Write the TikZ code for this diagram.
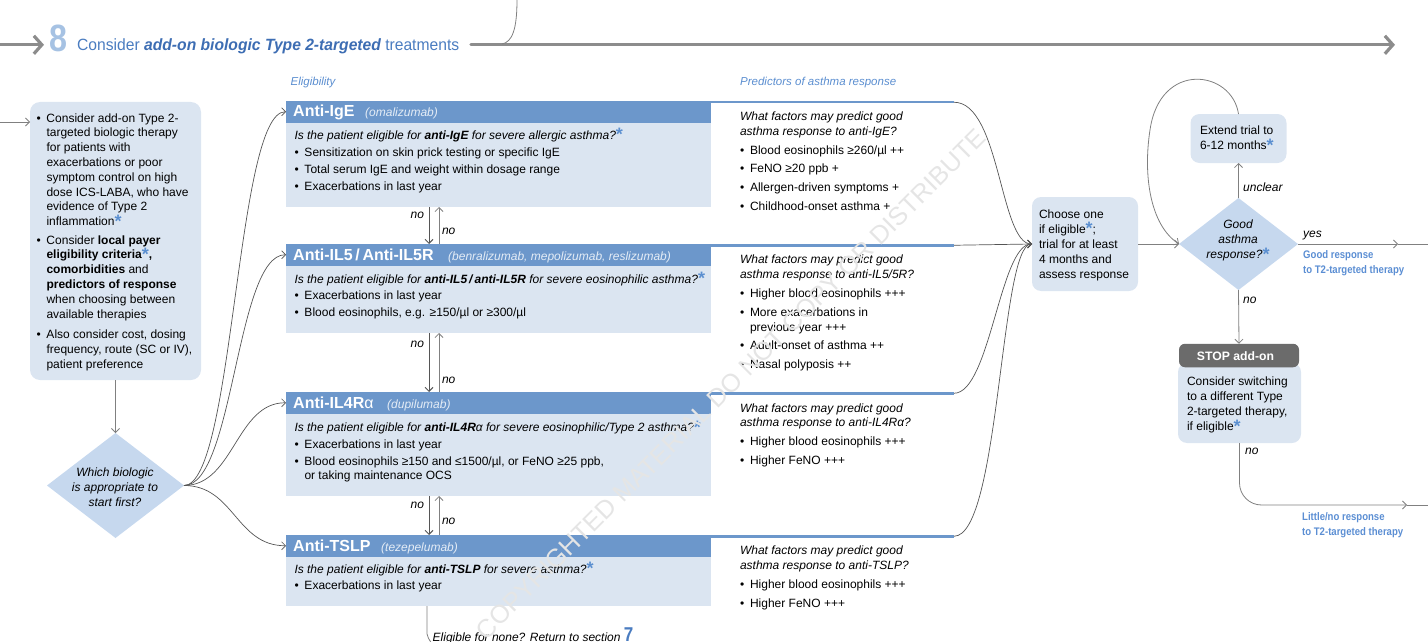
\documentclass[tikz,border=0pt]{standalone}
\usepackage{fontspec}
\setmainfont{Liberation Sans}
\newfontfamily\narrowf[FakeStretch=0.87]{Liberation Sans}
\newfontfamily\titlef[FakeStretch=0.96]{Liberation Sans}
\newfontfamily\eightf[FakeStretch=0.85]{Liberation Sans}
\usetikzlibrary{arrows.meta,shapes.geometric}
\definecolor{hdrblue}{HTML}{6C97CB}
\definecolor{boxblue}{HTML}{DBE5F1}
\definecolor{diafill}{HTML}{C6D8EE}
\definecolor{astblue}{HTML}{5B8FD0}
\definecolor{titleblue}{HTML}{4A7CC0}
\definecolor{titledark}{HTML}{3D6DB3}
\definecolor{eightblue}{HTML}{A6C2E3}
\definecolor{lineg}{HTML}{808080}
\definecolor{darkg}{HTML}{555555}
\definecolor{headg}{HTML}{8C8C8C}
\definecolor{stopg}{HTML}{6B6B6B}
\definecolor{respblue}{HTML}{5B8ED3}
\definecolor{labblue}{HTML}{5B8ED0}
\definecolor{drugc}{HTML}{E4ECF6}
\newcommand{\myast}{\raisebox{-1.5pt}{\fontsize{18}{18}\selectfont\bfseries\upshape\textcolor{astblue}{*}}}
\newcommand{\mybul}{\makebox[10pt][l]{\textbullet}}
\newcommand{\myind}{\hspace*{10pt}}
\newcommand{\myfl}{\rule{0pt}{12pt}}
\begin{document}
\begin{tikzpicture}[x=1pt,y=-1pt,
  tx/.style={anchor=north west, yshift=12pt, align=left, inner sep=0pt, outer sep=0pt, font=\fontsize{12}{14.8}\selectfont},
  ctx/.style={anchor=north, yshift=12pt, align=center, inner sep=0pt, outer sep=0pt, font=\fontsize{12}{15}\selectfont\itshape},
  htx/.style={anchor=base west, inner sep=0pt, text=white, font=\fontsize{16}{16}\selectfont\bfseries},
  dtx/.style={anchor=base west, inner sep=0pt, text=drugc, font=\fontsize{12}{12}\selectfont\itshape},
  lab/.style={anchor=base west, inner sep=0pt, font=\fontsize{12}{12}\selectfont\itshape},
  nolab/.style={anchor=base, inner sep=0pt, font=\fontsize{12}{12}\selectfont\itshape},
  bodybox/.style={fill=boxblue, inner sep=0pt, outer sep=0pt, anchor=north west, minimum width=425},
  hdrbox/.style={fill=hdrblue, inner sep=0pt, outer sep=0pt, anchor=north west, minimum width=425, minimum height=21.5},
  rbox/.style={fill=boxblue, rounded corners=9pt, inner sep=0pt, outer sep=0pt},
  conn/.style={draw=lineg, line width=0.8pt, -{Straight Barb[length=4pt,width=8pt]}},
  plain/.style={draw=lineg, line width=0.8pt},
  curv/.style={draw=darkg, line width=0.7pt, -{Straight Barb[length=4pt,width=8pt]}},
  predline/.style={draw=hdrblue, line width=2.5pt},
  bigarrow/.style={draw=headg, line width=3.2pt, line cap=round, -{Straight Barb[length=8pt,width=18pt]}},
  resp/.style={anchor=north west, yshift=11pt, align=left, inner sep=0pt, text=respblue, font=\narrowf\fontsize{11}{15}\selectfont\bfseries},
  toplab/.style={anchor=base west, inner sep=0pt, text=labblue, font=\fontsize{11.5}{11.5}\selectfont\itshape},
]
\useasboundingbox (0,0) rectangle (1428,642);

% ---------- header ----------
\coordinate (hl0) at (0,44.8);
\coordinate (hl1) at (44,44.8);
\draw[bigarrow] (hl0) -- (hl1);
\node[anchor=base west, inner sep=0pt, text=eightblue, font=\eightf\fontsize{38}{38}\selectfont\bfseries] (eight) at (49.5,51.7) {8};
\node[anchor=base west, inner sep=0pt, text=titleblue, font=\titlef\fontsize{16.3}{16.3}\selectfont] (title) at (77,51) {Consider \textcolor{titledark}{\bfseries\itshape add-on biologic Type 2-targeted} treatments};
\coordinate (hr0) at (471,44.8);
\coordinate (hr1) at (1395,44.8);
\draw[bigarrow] (hr0) -- (hr1);
\coordinate (topc) at (517,0);
\coordinate (topj) at (502,44);
\draw[plain] (topc) .. controls (517,30) and (512,42) .. (topj);

\node[toplab] (eligl) at (290.5,85.5) {Eligibility};
\node[toplab] (predl) at (740,85.5) {Predictors of asthma response};

% ---------- intro box ----------
\node[rbox, rounded corners=10pt, minimum width=171, minimum height=278] (intro) at (115.5,241) {};
\coordinate (instart) at (0,122);
\draw[conn] (instart) -- (instart -| intro.west);
\node[tx] (introtx) at (36.5,122.1) {\myfl\mybul Consider add-on Type 2-\\
\myind targeted biologic therapy\\
\myind for patients with\\
\myind exacerbations or poor\\
\myind symptom control on high\\
\myind dose ICS-LABA, who have\\
\myind evidence of Type 2\\
\myind inflammation\myast\\[3.5pt]
\mybul Consider \textbf{local payer}\\
\myind\textbf{eligibility criteria}\myast\textbf{,}\\
\myind\textbf{comorbidities} and\\
\myind\textbf{predictors of response}\\
\myind when choosing between\\
\myind available therapies\\[6pt]
\mybul Also consider cost, dosing\\
\myind frequency, route (SC or IV),\\
\myind patient preference};

\node[diamond, fill=diafill, minimum width=137, minimum height=105, inner sep=0pt, outer sep=0pt] (d1) at (115.5,485.5) {};
\draw[conn] (intro.south) -- (d1.north);
\node[ctx] (d1tx) at (115,476.5) {\myfl Which biologic\\is appropriate to\\start first?};

% ---------- biologic boxes ----------
\node[bodybox, minimum height=106] (b1) at (286,101) {};
\node[hdrbox] (h1) at (b1.north west) {};
\node[bodybox, minimum height=89] (b2) at (286,244) {};
\node[hdrbox] (h2) at (b2.north west) {};
\node[bodybox, minimum height=104] (b3) at (286,392) {};
\node[hdrbox] (h3) at (b3.north west) {};
\node[bodybox, minimum height=71] (b4) at (286,535) {};
\node[hdrbox] (h4) at (b4.north west) {};

\draw[curv] (d1.east) .. controls +(50,0) and +(-50,0) .. (h1.west);
\draw[curv] (d1.east) .. controls +(50,0) and +(-50,0) .. (h2.west);
\draw[curv] (d1.east) .. controls +(50,0) and +(-50,0) .. (h3.west);
\draw[curv] (d1.east) .. controls +(50,0) and +(-50,0) .. (h4.west);

\node[htx] (h1t) at (293,117) {Anti-IgE};
\node[dtx] (h1d) at (365,117) {(omalizumab)};
\node[htx] (h2t) at (293,260.6) {Anti-IL5\,/\,Anti-IL5R};
\node[dtx] (h2d) at (448,260.6) {(benralizumab, mepolizumab, reslizumab)};
\node[htx] (h3t) at (293,408.6) {Anti-IL4R{\mdseries α}};
\node[dtx] (h3d) at (387,408.6) {(dupilumab)};
\node[htx] (h4t) at (293,551.1) {Anti-TSLP};
\node[dtx] (h4d) at (381,551.1) {(tezepelumab)};

\node[tx] (q1) at (294.5,139) {\myfl\textit{Is the patient eligible for \textbf{anti-IgE} for severe allergic asthma?}\myast\\[2.5pt]
\mybul Sensitization on skin prick testing or specific IgE\\[2.5pt]
\mybul Total serum IgE and weight within dosage range\\[2.5pt]
\mybul Exacerbations in last year};
\node[tx] (q2) at (294.5,283) {\myfl\textit{Is the patient eligible for \textbf{anti-IL5\,/\,anti-IL5R} for severe eosinophilic asthma?}\myast\\[2pt]
\mybul Exacerbations in last year\\[2pt]
\mybul Blood eosinophils, e.g. ≥150/µl or ≥300/µl};
\node[tx] (q3) at (294.5,431.5) {\myfl\textit{Is the patient eligible for \textbf{anti-IL4R}α for severe eosinophilic/Type 2 asthma?}\myast\\[2pt]
\mybul Exacerbations in last year\\[2pt]
\mybul Blood eosinophils ≥150 and ≤1500/µl, or FeNO ≥25 ppb,\\
\myind or taking maintenance OCS};
\node[tx] (q4) at (294.5,573) {\myfl\textit{Is the patient eligible for \textbf{anti-TSLP} for severe asthma?}\myast\\[2pt]
\mybul Exacerbations in last year};

% no arrows between boxes
\coordinate (xd) at (429,0);
\coordinate (xu) at (439,0);
\draw[conn, draw=darkg, line width=1pt] (b1.south -| xd) -- (b2.north -| xd);
\draw[conn] (b2.north -| xu) -- (b1.south -| xu);
\draw[conn, draw=darkg, line width=1pt] (b2.south -| xd) -- (b3.north -| xd);
\draw[conn] (b3.north -| xu) -- (b2.south -| xu);
\draw[conn, draw=darkg, line width=1pt] (b3.south -| xd) -- (b4.north -| xd);
\draw[conn] (b4.north -| xu) -- (b3.south -| xu);
\node[nolab] (n1a) at (417.3,218.1) {no};
\node[nolab] (n1b) at (448.7,234.1) {no};
\node[nolab] (n2a) at (417.3,347.1) {no};
\node[nolab] (n2b) at (448.7,383.1) {no};
\node[nolab] (n3a) at (417.3,508.8) {no};
\node[nolab] (n3b) at (448.7,524.8) {no};

% eligible for none
\coordinate (xe) at (427,0);
\coordinate (elgend) at (431,642.5);
\draw[plain] (b4.south -| xe) -- (427,634) to[out=-90,in=110] (elgend);
\node[lab] (eltx) at (432.5,641) {Eligible for none? Return to section {\upshape\eightf\bfseries\textcolor{titleblue}{\fontsize{20}{20}\selectfont 7}}};

% ---------- predictors ----------
\draw[predline] ([yshift=-1.25pt]h1.north east) -- ++(243,0) coordinate (p1);
\draw[predline] ([yshift=-1.25pt]h2.north east) -- ++(243,0) coordinate (p2);
\draw[predline] ([yshift=-1.25pt]h3.north east) -- ++(243,0) coordinate (p3);
\draw[predline] ([yshift=-1.25pt]h4.north east) -- ++(243,0) coordinate (p4);

\node[tx] (pr1) at (740,120.5) {\myfl\textit{What factors may predict good}\\
\textit{asthma response to anti-IgE?}\\[4.2pt]
\mybul Blood eosinophils ≥260/µl ++\\[3.8pt]
\mybul FeNO ≥20 ppb +\\[3.8pt]
\mybul Allergen-driven symptoms +\\[3.8pt]
\mybul Childhood-onset asthma +};
\node[tx] (pr2) at (740,263.8) {\myfl\textit{What factors may predict good}\\
\textit{asthma response to anti-IL5/5R?}\\[4.2pt]
\mybul Higher blood eosinophils +++\\[3.8pt]
\mybul More exacerbations in\\
\myind previous year +++\\[3.8pt]
\mybul Adult-onset of asthma ++\\[3.8pt]
\mybul Nasal polyposis ++};
\node[tx] (pr3) at (740,412.1) {\myfl\textit{What factors may predict good}\\
\textit{asthma response to anti-IL4Rα?}\\[4.2pt]
\mybul Higher blood eosinophils +++\\[3.8pt]
\mybul Higher FeNO +++};
\node[tx] (pr4) at (740,554.8) {\myfl\textit{What factors may predict good}\\
\textit{asthma response to anti-TSLP?}\\[4.2pt]
\mybul Higher blood eosinophils +++\\[3.8pt]
\mybul Higher FeNO +++};

% ---------- right part ----------
\node[rbox, minimum width=106, minimum height=94] (choose) at (1085,244) {};
\node[diamond, fill=diafill, minimum width=119, minimum height=92, inner sep=0pt, outer sep=0pt] (d2) at (1238.5,244) {};
\node[rbox, minimum width=96, minimum height=49] (ext) at (1238.5,138.5) {};
\node[rbox, minimum width=123, minimum height=80] (sw) at (1239.5,403) {};
\node[fill=stopg, rounded corners=6pt, minimum width=120, minimum height=23.5, inner sep=0pt, outer sep=0pt] (stop) at (1239,355.5) {};

\draw[curv] (p1) .. controls +(46,0) and +(-32,0) .. (choose.west);
\draw[curv] (p2) -- (choose.west);
\draw[curv] (p3) .. controls +(36,0) and +(-32,0) .. (choose.west);
\draw[curv] (p4) .. controls +(46,0) and +(-32,0) .. (choose.west);

\draw[conn] (choose.east) -- (d2.west);
\draw[conn] (d2.north) -- (ext.south);
\draw[conn] (d2.south) -- (stop.north);
\draw[conn] (ext.north) .. controls (1232,70) and (1160,60) .. (1150,130) .. controls (1143,175) and (1150,225) .. (d2.west);

\coordinate (yesend) at (1398,244);
\coordinate (yesedge) at (1428,244);
\draw[conn] (d2.east) -- (yesend);
\draw[plain] (yesend) -- (yesedge);
\coordinate (noend) at (1407,505);
\coordinate (noedge) at (1428,505);
\draw[conn, rounded corners=22pt] (sw.south) -- (sw.south |- noend) -- (noend);
\draw[plain] (noend) -- (noedge);

\node[tx, font=\fontsize{12}{15}\selectfont] (choosetx) at (1039,218) {\myfl Choose one\\if eligible\myast;\\trial for at least\\4 months and\\assess response};
\node[tx, font=\fontsize{12}{15}\selectfont] (exttx) at (1200,134.8) {\myfl Extend trial to\\6-12 months\myast};
\node[ctx] (d2tx) at (1238,228.8) {\myfl Good\\asthma\\response?\myast};
\node[anchor=base, inner sep=0pt, text=white, font=\fontsize{12.2}{12.2}\selectfont\bfseries] (stoptx) at (1235.5,360.4) {STOP add-on};
\node[tx, font=\fontsize{12}{15}\selectfont] (swtx) at (1187,385.5) {\myfl Consider switching\\to a different Type\\2-targeted therapy,\\if eligible\myast};

\node[lab] (unc) at (1243,191.5) {unclear};
\node[lab] (yes) at (1303,237.5) {yes};
\node[lab] (no1) at (1243,303.5) {no};
\node[lab] (no2) at (1245,454.5) {no};
\node[resp] (goodr) at (1303,257.8) {\rule{0pt}{11pt}Good response\\to T2-targeted therapy};
\node[resp] (littler) at (1302,519.8) {\rule{0pt}{11pt}Little/no response\\to T2-targeted therapy};

% ---------- watermark ----------
\node[rotate=45, text=black!10, font=\fontsize{25.5}{25.5}\selectfont, inner sep=0pt] (wm) at (731,384) {COPYRIGHTED MATERIAL DO NOT COPY OR DISTRIBUTE};
\end{tikzpicture}
\end{document}
